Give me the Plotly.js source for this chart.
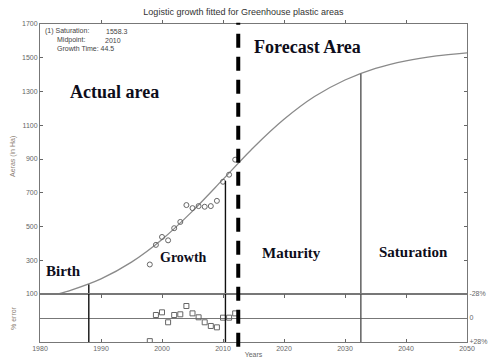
<!DOCTYPE html>
<html>
<head>
<meta charset="utf-8">
<script src="https://cdn.plot.ly/plotly-3.0.1.min.js"></script>
<style>html,body{margin:0;padding:0;background:#fff;}#chart{width:488px;height:360px;}</style>
</head>
<body>
<div id="chart"></div>
<script>
// ---- data ----
const actualYears = [1998,1999,2000,2001,2002,2003,2004,2005,2006,2007,2008,2009,2010,2011,2012];
const actualAreas = [275,391,438,418,490,527,627,609,621,617,621,652,765,807,896];
const errorPct    = [27,-3.5,-6.6,5,-3.5,-4.3,-14,-5.4,-0.8,5,9.3,10.9,-0.4,-0.4,-5.4];
const curveYears  = [1983,1985,1990,1995,2000,2005,2010,2015,2020,2025,2030,2035,2040,2045,2050];
const curveAreas  = [101,122,190,289,423,591,779,968,1135,1270,1368,1437,1482,1511,1529];
const stageYears  = [1988,2010.4,2032.6];
const stageTops   = [157,770,1405];
const forecastStart = 2012.5;
const areaTicks   = [100,300,500,700,900,1100,1300,1500,1700];
const yearTicks   = [1980,1990,2000,2010,2020,2030,2040,2050];
const errorTicks  = [-28,0,28];
const errorLabels = ['-28%','0','+28%'];
const fitLabels   = ['(1) Saturation:','Midpoint:','Growth Time: 44.5'];
const fitValues   = ['1558.3','2010',''];
const stageNames  = ['Actual area','Forecast Area','Birth','Growth','Maturity','Saturation'];

// ---- geometry helpers ----
const W=488,H=360,L=40,R=21,T=24,B=18;
const px = x => (x-L)/(W-L-R);
const py = y => (H-B-y)/(H-T-B);
const split = py(294);

const traces = [];
traces.push({x:curveYears,y:curveAreas,xaxis:'x',yaxis:'y',mode:'lines',
  line:{color:'#8a8a8a',width:1.3,shape:'spline',smoothing:0.8},hoverinfo:'skip'});
traces.push({x:actualYears,y:actualAreas,xaxis:'x',yaxis:'y',mode:'markers',
  marker:{symbol:'circle-open',size:5,color:'#666',line:{width:1}}});
traces.push({x:actualYears,y:errorPct,xaxis:'x',yaxis:'y2',mode:'markers',
  marker:{symbol:'square-open',size:5,color:'#666',line:{width:1}}});
const stageColors=['#111','#111','#555'];
stageYears.forEach((yr,i)=>{
  traces.push({x:[yr,yr],y:[100,stageTops[i]],xaxis:'x',yaxis:'y',mode:'lines',
    line:{color:stageColors[i],width:1.4},hoverinfo:'skip'});
  traces.push({x:[yr,yr],y:[28,-28],xaxis:'x',yaxis:'y2',mode:'lines',
    line:{color:stageColors[i],width:1.4},hoverinfo:'skip'});
});

const tickFont={family:'Liberation Sans, Arial, sans-serif',size:7,color:'#666'};
const serif='Liberation Serif, Times New Roman, serif';
const annotations=[];
const fitRowsY=[31,40,49];
const fitX=[43,55,55];
fitLabels.forEach((t,i)=>{
  annotations.push({xref:'paper',yref:'paper',x:px(fitX[i]),y:py(fitRowsY[i]),text:t,showarrow:false,
    xanchor:'left',yanchor:'middle',font:{family:'Liberation Sans, Arial, sans-serif',size:7,color:'#444'}});
  if(fitValues[i]) annotations.push({xref:'paper',yref:'paper',x:px(i===0?104:103),y:py(fitRowsY[i]),text:fitValues[i],showarrow:false,
    xanchor:'left',yanchor:'middle',font:{family:'Liberation Sans, Arial, sans-serif',size:7,color:'#444'}});
});
const stagePos=[[114,92,18],[307,47,18],[63,271,15],[183,257,14],[291,253,15],[413,252,15]];
stageNames.forEach((t,i)=>{
  annotations.push({xref:'paper',yref:'paper',x:px(stagePos[i][0]),y:py(stagePos[i][1]),text:'<b>'+t+'</b>',
    showarrow:false,xanchor:'center',yanchor:'middle',font:{family:serif,size:stagePos[i][2],color:'#0d0d1a'}});
});
annotations.push({xref:'paper',yref:'paper',x:px(13),y:py(157),text:'Aeras (in Ha)',textangle:-90,showarrow:false,
  xanchor:'center',yanchor:'middle',font:{family:'Liberation Sans, Arial, sans-serif',size:7,color:'#8b7d72'}});
annotations.push({xref:'paper',yref:'paper',x:px(13),y:py(318),text:'% error',textangle:-90,showarrow:false,
  xanchor:'center',yanchor:'middle',font:{family:'Liberation Sans, Arial, sans-serif',size:7,color:'#8b7d72'}});

const layout={
  width:W,height:H,margin:{l:L,r:R,t:T,b:B,pad:0},
  paper_bgcolor:'#fff',plot_bgcolor:'#fff',showlegend:false,
  title:{text:'Logistic growth fitted for Greenhouse plastic areas',x:px(253),xanchor:'center',y:1-12/H,yanchor:'middle',
    font:{family:'Liberation Sans, Arial, sans-serif',size:9,color:'#333'}},
  xaxis:{range:[1980,2050],anchor:'y2',tickvals:yearTicks,ticks:'inside',ticklen:3,tickcolor:'#666',
    showline:true,linecolor:'#777',mirror:'allticks',showgrid:false,zeroline:false,tickfont:tickFont,
    title:{text:'Years',font:{family:'Liberation Sans, Arial, sans-serif',size:7,color:'#666'},standoff:0}},
  yaxis:{domain:[split,1],range:[100,1700],tickvals:areaTicks,ticks:'inside',ticklen:3,tickcolor:'#666',
    showline:true,linecolor:'#777',mirror:'ticks',showgrid:false,zeroline:false,tickfont:tickFont},
  yaxis2:{domain:[0,split],range:[28,-28],side:'right',tickvals:errorTicks,ticktext:errorLabels,ticks:'',
    showline:true,linecolor:'#777',mirror:true,showgrid:true,gridcolor:'#777',gridwidth:1,zeroline:false,tickfont:tickFont},
  shapes:[
    {type:'line',xref:'x',yref:'paper',x0:forecastStart,x1:forecastStart,y0:-0.015,y1:1.004,
      line:{color:'#000',width:4,dash:'14px,9px'}}
  ],
  annotations:annotations
};
Plotly.newPlot('chart',traces,layout,{staticPlot:true,displayModeBar:false});
</script>
</body>
</html>
